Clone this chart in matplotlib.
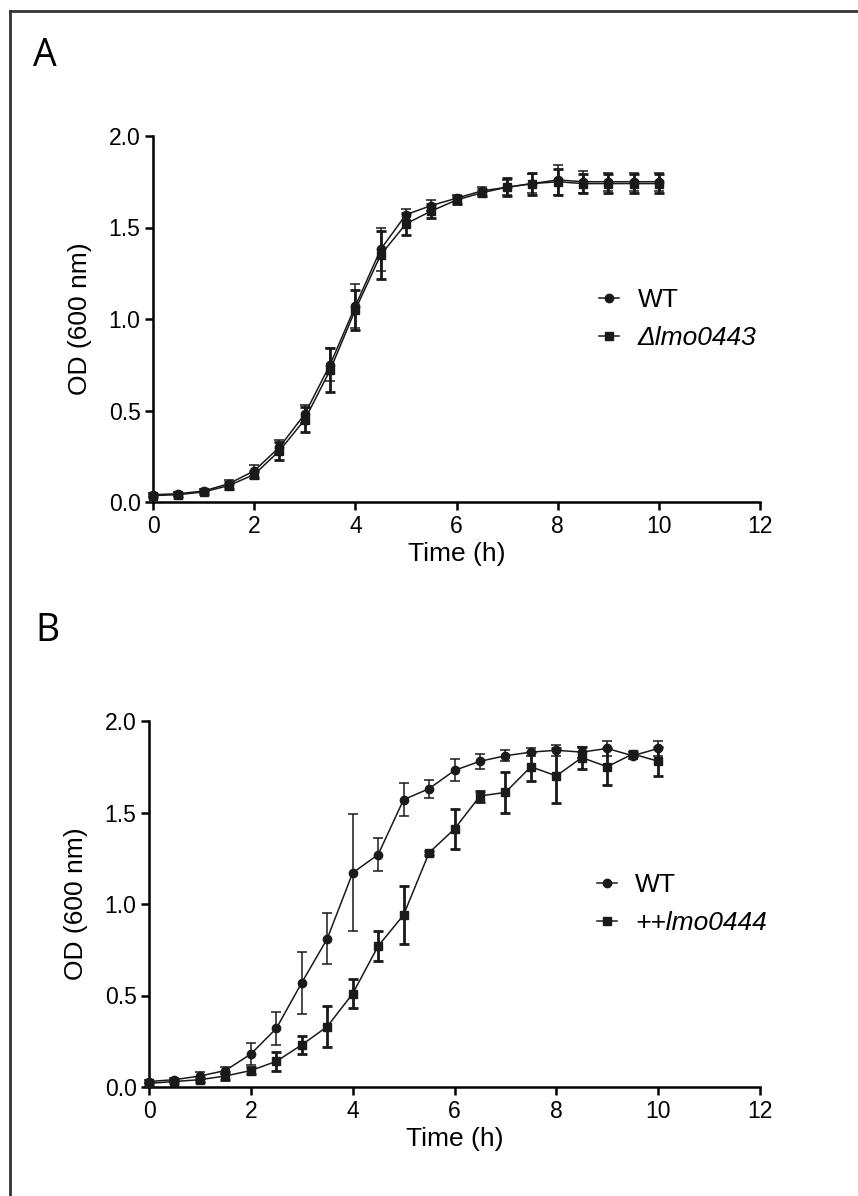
import numpy as np
import matplotlib.pyplot as plt
from matplotlib.lines import Line2D

plt.rcParams['font.family'] = ['Liberation Sans', 'DejaVu Sans']

time_h = [0, 0.5, 1, 1.5, 2, 2.5, 3, 3.5, 4, 4.5, 5, 5.5, 6, 6.5, 7, 7.5, 8, 8.5, 9, 9.5, 10]

# panel A
wt_a = [0.04, 0.045, 0.06, 0.10, 0.17, 0.30, 0.48, 0.75, 1.07, 1.38, 1.57, 1.62, 1.66, 1.70, 1.72, 1.74, 1.76, 1.75, 1.75, 1.75, 1.75]
wt_a_err = [0.01, 0.01, 0.01, 0.02, 0.03, 0.04, 0.05, 0.09, 0.12, 0.12, 0.03, 0.03, 0.02, 0.02, 0.04, 0.05, 0.08, 0.06, 0.05, 0.05, 0.05]
ko_a = [0.035, 0.04, 0.055, 0.09, 0.15, 0.28, 0.45, 0.72, 1.05, 1.35, 1.52, 1.59, 1.65, 1.69, 1.72, 1.74, 1.75, 1.74, 1.74, 1.74, 1.74]
ko_a_err = [0.01, 0.01, 0.01, 0.02, 0.02, 0.05, 0.07, 0.12, 0.11, 0.13, 0.06, 0.04, 0.02, 0.02, 0.05, 0.06, 0.07, 0.05, 0.05, 0.05, 0.05]

# panel B
wt_b = [0.03, 0.04, 0.06, 0.09, 0.18, 0.32, 0.57, 0.81, 1.17, 1.27, 1.57, 1.63, 1.73, 1.78, 1.81, 1.83, 1.84, 1.83, 1.85, 1.81, 1.85]
wt_b_err = [0.01, 0.01, 0.02, 0.02, 0.06, 0.09, 0.17, 0.14, 0.32, 0.09, 0.09, 0.05, 0.06, 0.04, 0.03, 0.02, 0.03, 0.03, 0.04, 0.02, 0.04]
oe_b = [0.02, 0.03, 0.04, 0.06, 0.09, 0.14, 0.23, 0.33, 0.51, 0.77, 0.94, 1.28, 1.41, 1.59, 1.61, 1.75, 1.70, 1.80, 1.75, 1.82, 1.78]
oe_b_err = [0.01, 0.01, 0.01, 0.02, 0.02, 0.05, 0.05, 0.11, 0.08, 0.08, 0.16, 0.01, 0.11, 0.03, 0.11, 0.08, 0.15, 0.06, 0.10, 0.01, 0.08]

yticks = [0.0, 0.5, 1.0, 1.5, 2.0]
xticks = [0, 2, 4, 6, 8, 10, 12]

fig = plt.figure(figsize=(8.58, 11.96), dpi=100)

# frame lines on left and top of the figure
fig.add_artist(Line2D([10/858, 10/858], [0, 1 - 11/1196], transform=fig.transFigure, color='#333333', lw=2))
fig.add_artist(Line2D([10/858, 1], [1 - 11/1196, 1 - 11/1196], transform=fig.transFigure, color='#333333', lw=2))


def panel(ax, y1, e1, y2, e2, lab2, leg_x):
    ax.errorbar(time_h, y1, yerr=e1, color='#1a1a1a', lw=1.1, marker='o', ms=6,
                elinewidth=1.1, capsize=3.5, capthick=1.1, label='WT', clip_on=False, zorder=3)
    ax.errorbar(time_h, y2, yerr=e2, color='#1a1a1a', lw=1.1, marker='s', ms=6,
                elinewidth=2, capsize=3.5, capthick=2, label=lab2, clip_on=False, zorder=3)
    ax.set_xlim(0, 12)
    ax.set_ylim(0, 2)
    ax.set_xticks(xticks)
    ax.set_yticks(yticks)
    ax.set_yticklabels(['%.1f' % v for v in yticks])
    for s in ['top', 'right']:
        ax.spines[s].set_visible(False)
    for s in ['left', 'bottom']:
        ax.spines[s].set_linewidth(1.8)
    ax.tick_params(width=1.8, length=6, labelsize=16.5, pad=3)
    ax.set_xlabel('Time (h)', fontsize=19, labelpad=3)
    ax.set_ylabel('OD (600 nm)', fontsize=19)
    ax.yaxis.set_label_coords(-61/607, 0.5)
    handles, labels = ax.get_legend_handles_labels()
    handles = [h[0] for h in handles]
    leg = ax.legend(handles, labels, loc='center left', bbox_to_anchor=(leg_x, 0.5),
                    frameon=False, fontsize=19, handlelength=0.75, handletextpad=0.7,
                    labelspacing=0.55, borderpad=0, borderaxespad=0)
    leg.get_texts()[1].set_style('italic')


ax1 = fig.add_axes([153/858, 1 - 502/1196, 607/858, 366/1196])
panel(ax1, wt_a, wt_a_err, ko_a, ko_a_err, '\u0394lmo0443', 0.735)

ax2 = fig.add_axes([149/858, 1 - 1087/1196, 611/858, 366/1196])
panel(ax2, wt_b, wt_b_err, oe_b, oe_b_err, '++lmo0444', 0.733)

fig.text(45/858, 1 - 56/1196, 'A', fontsize=27, family=['Open Sans', 'DejaVu Sans'], ha='center', va='center')
fig.text(47/858, 1 - 631/1196, 'B', fontsize=27, family=['Open Sans', 'DejaVu Sans'], ha='center', va='center')

fig.savefig('out.png', dpi=100)
